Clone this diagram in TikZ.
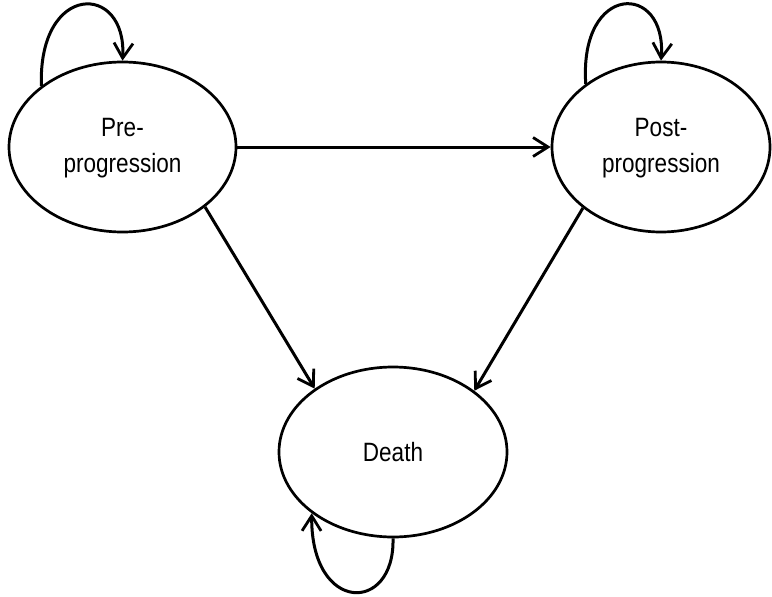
\documentclass[tikz,border=0pt]{standalone}
\usepackage{fontspec}
\setmainfont{Liberation Sans}
\newfontfamily\narrowsans[FakeStretch=0.85]{Liberation Sans}
\usetikzlibrary{shapes.geometric,arrows.meta}
\begin{document}
\begin{tikzpicture}[x=1pt,y=-1pt,
  state/.style={draw=black, ellipse, line width=2.7pt, inner sep=0pt, minimum height=170pt,
    align=center, font=\narrowsans\fontsize{26.5}{36}\selectfont},
  conn/.style={line width=3pt, -{Straight Barb[length=15pt,width=19pt,line width=2.8pt]}}]
\useasboundingbox (0,0) rectangle (772,597);
\node[state, minimum width=227pt] (pre) at (122.5,147) {\raisebox{-4pt}{\begin{tabular}{@{}c@{}}Pre-\\progression\end{tabular}}};
\node[state, minimum width=218pt] (post) at (661,147) {\raisebox{-4pt}{\begin{tabular}{@{}c@{}}Post-\\progression\end{tabular}}};
\node[state, minimum width=228pt] (death) at (393,452) {Death};
\draw[conn] (pre.east) -- (post.west);
\draw[conn] (pre.-36.5) -- (death.141.8);
\draw[conn] (post.-142.3) -- (death.37.1);
\draw[conn] (pre.143.8) .. controls (38,-18) and (127,-18) .. (pre.90);
\draw[conn] (post.140.6) .. controls (579,-18) and (667,-18) .. (post.90);
\draw[conn] (death.270) .. controls (395,614) and (311,614) .. (death.217.3);
\end{tikzpicture}
\end{document}
